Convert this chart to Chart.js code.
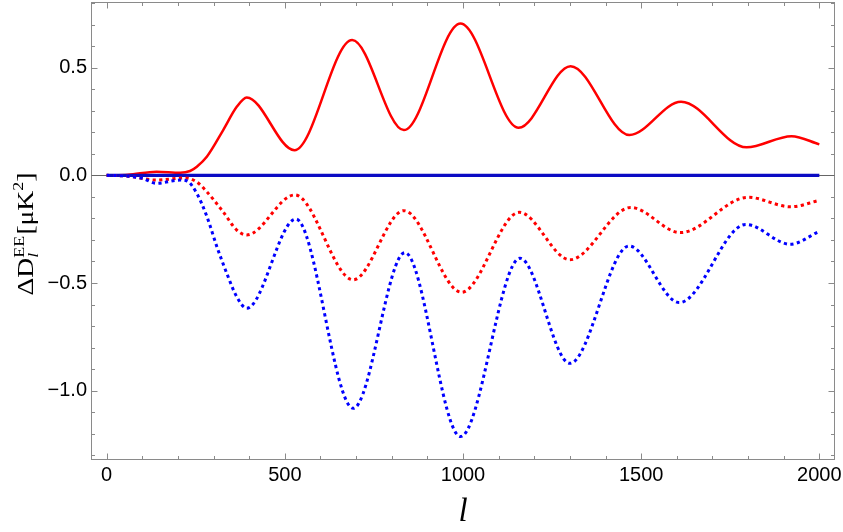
<!DOCTYPE html>
<html>
<head>
<meta charset="utf-8">
<script src="https://cdn.jsdelivr.net/npm/chart.js@4"></script>
<style>
  html, body { margin: 0; padding: 0; background: #fff; }
</style>
</head>
<body>
<canvas id="chart" width="843" height="532"></canvas>
<script>
// Multipole l and Delta D_l^EE values (turning points plus the early rise)
const redSolidL = [0, 60, 140, 206, 234, 253, 281, 327, 365, 393, 527, 689, 834, 993, 1156, 1302, 1467, 1612, 1796, 1922, 2000];
const redSolidD = [0, 0.003, 0.017, 0.012, 0.02, 0.04, 0.086, 0.21, 0.318, 0.362, 0.117, 0.628, 0.21, 0.705, 0.221, 0.507, 0.187, 0.342, 0.13, 0.182, 0.144];

const redDotL = [0, 60, 140, 220, 252, 281, 327, 365, 393, 528, 692, 834, 996, 1158, 1300, 1471, 1610, 1800, 1920, 2000];
const redDotD = [0, -0.004, -0.022, -0.012, -0.03, -0.076, -0.17, -0.254, -0.277, -0.091, -0.485, -0.164, -0.543, -0.172, -0.392, -0.149, -0.266, -0.102, -0.146, -0.116];

const blueDotL = [0, 60, 100, 140, 206, 224, 253, 281, 309, 337, 365, 393, 531, 692, 837, 993, 1160, 1300, 1466, 1607, 1794, 1918, 2000];
const blueDotD = [0, -0.004, -0.014, -0.037, -0.022, -0.025, -0.084, -0.19, -0.33, -0.455, -0.564, -0.617, -0.203, -1.082, -0.359, -1.213, -0.385, -0.873, -0.328, -0.591, -0.228, -0.32, -0.26];

const blueSolidL = [0, 2000];
const blueSolidD = [0, 0];

const xTickValues = [0, 500, 1000, 1500, 2000];
const yTickValues = [-1, -0.5, 0, 0.5];

function toPoints(ls, ds) {
    return ls.map((l, i) => ({ x: l, y: ds[i] }));
}

// Frame, zero line and inward ticks, Mathematica style
const frameTicks = {
    id: 'frameTicks',
    beforeDatasetsDraw(chart) {
        const { ctx, chartArea: a, scales: { x, y } } = chart;
        const L = Math.round(a.left) + 0.5, R = Math.round(a.right) - 0.5;
        const T = Math.round(a.top) + 0.5, B = Math.round(a.bottom) - 0.5;
        ctx.save();
        ctx.strokeStyle = '#8a8a8a';
        ctx.lineWidth = 1;
        ctx.strokeRect(L, T, R - L, B - T);

        ctx.beginPath();
        for (let v = 0; v <= 2000; v += 100) {
            const px = Math.round(x.getPixelForValue(v)) + 0.5;
            const len = v % 500 === 0 ? 6 : 3.5;
            ctx.moveTo(px, B); ctx.lineTo(px, B - len);
            ctx.moveTo(px, T); ctx.lineTo(px, T + len);
        }
        for (let k = -13; k <= 8; k++) {
            const py = Math.round(y.getPixelForValue(k / 10)) + 0.5;
            const len = k % 5 === 0 ? 6 : 3.5;
            ctx.moveTo(L, py); ctx.lineTo(L + len, py);
            ctx.moveTo(R, py); ctx.lineTo(R - len, py);
        }
        ctx.stroke();

        // zero axis line
        const y0 = Math.round(y.getPixelForValue(0)) + 0.5;
        ctx.strokeStyle = '#666';
        ctx.beginPath();
        ctx.moveTo(L, y0); ctx.lineTo(R, y0);
        ctx.stroke();
        ctx.restore();
    }
};

// y axis title with sub- and superscripts
const yTitle = {
    id: 'yTitle',
    afterDraw(chart) {
        const ctx = chart.ctx;
        const main = '23px "Liberation Serif"';
        const small = '15px "Liberation Serif"';
        const smallItalic = 'italic 15px "Liberation Serif"';
        ctx.save();
        ctx.translate(33, 234);
        ctx.rotate(-Math.PI / 2);
        ctx.scale(1.2, 1);
        ctx.fillStyle = '#000';
        ctx.textBaseline = 'alphabetic';

        ctx.font = main;
        const w1 = ctx.measureText('\u0394D').width;
        const w3 = ctx.measureText('[\u03bcK').width;
        const w5 = ctx.measureText(']').width;
        ctx.font = small;
        const wEE = ctx.measureText('EE').width;
        const w2sup = ctx.measureText('2').width;
        ctx.font = smallItalic;
        const wl = ctx.measureText('l').width;
        const w2 = Math.max(wEE, wl) + 1;
        const total = w1 + w2 + w3 + w2sup + w5;

        let cx = -total / 2;
        ctx.font = main;
        ctx.fillText('\u0394D', cx, 0); cx += w1;
        ctx.font = small;
        ctx.fillText('EE', cx, -9);
        ctx.font = smallItalic;
        ctx.fillText('l', cx, 5); cx += w2;
        ctx.font = main;
        ctx.fillText('[\u03bcK', cx, 0); cx += w3;
        ctx.font = small;
        ctx.fillText('2', cx, -10); cx += w2sup;
        ctx.font = main;
        ctx.fillText(']', cx, 0);
        ctx.restore();
    }
};

const tickFont = { family: '"Liberation Sans", Arial, sans-serif', size: 20 };

new Chart(document.getElementById('chart').getContext('2d'), {
    type: 'line',
    data: {
        datasets: [
            {
                label: 'blue dotted',
                data: toPoints(blueDotL, blueDotD),
                borderColor: '#0000ff',
                borderWidth: 3,
                borderDash: [3.2, 3.4],
                cubicInterpolationMode: 'monotone',
                fill: false
            },
            {
                label: 'red dotted',
                data: toPoints(redDotL, redDotD),
                borderColor: '#ff0000',
                borderWidth: 3,
                borderDash: [3.2, 3.4],
                cubicInterpolationMode: 'monotone',
                fill: false
            },
            {
                label: 'blue solid',
                data: toPoints(blueSolidL, blueSolidD),
                borderColor: '#0b0bc4',
                borderWidth: 3.4,
                fill: false
            },
            {
                label: 'red solid',
                data: toPoints(redSolidL, redSolidD),
                borderColor: '#ff0000',
                borderWidth: 2.5,
                cubicInterpolationMode: 'monotone',
                fill: false
            }
        ]
    },
    options: {
        responsive: false,
        animation: false,
        layout: { padding: { top: 2, right: 8, left: 0, bottom: 0 } },
        elements: { point: { radius: 0 } },
        plugins: {
            legend: { display: false },
            tooltip: { enabled: false }
        },
        scales: {
            x: {
                type: 'linear',
                min: -44,
                max: 2044,
                grid: { display: false, drawTicks: false },
                border: { display: false },
                afterBuildTicks: s => { s.ticks = xTickValues.map(v => ({ value: v })); },
                afterFit: s => {
                    s.height = 72;
                    s.paddingLeft = 0;
                    s.paddingRight = 0;
                },
                ticks: {
                    font: tickFont,
                    color: '#000',
                    padding: 3,
                    maxRotation: 0,
                    autoSkip: false,
                    callback: v => String(v)
                },
                title: {
                    display: true,
                    text: 'l',
                    color: '#000',
                    font: { family: '"Liberation Serif", serif', style: 'italic', size: 33 },
                    padding: 0
                }
            },
            y: {
                min: -1.322,
                max: 0.805,
                grid: { display: false, drawTicks: false },
                border: { display: false },
                afterBuildTicks: s => { s.ticks = yTickValues.map(v => ({ value: v })); },
                afterFit: s => {
                    s.width = 91;
                    s.paddingTop = 0;
                    s.paddingBottom = 0;
                },
                ticks: {
                    font: tickFont,
                    color: '#000',
                    padding: 4,
                    autoSkip: false,
                    callback: v => (v < 0 ? '\u2212' : '') + Math.abs(v).toFixed(1)
                }
            }
        }
    },
    plugins: [frameTicks, yTitle]
});
</script>
</body>
</html>
